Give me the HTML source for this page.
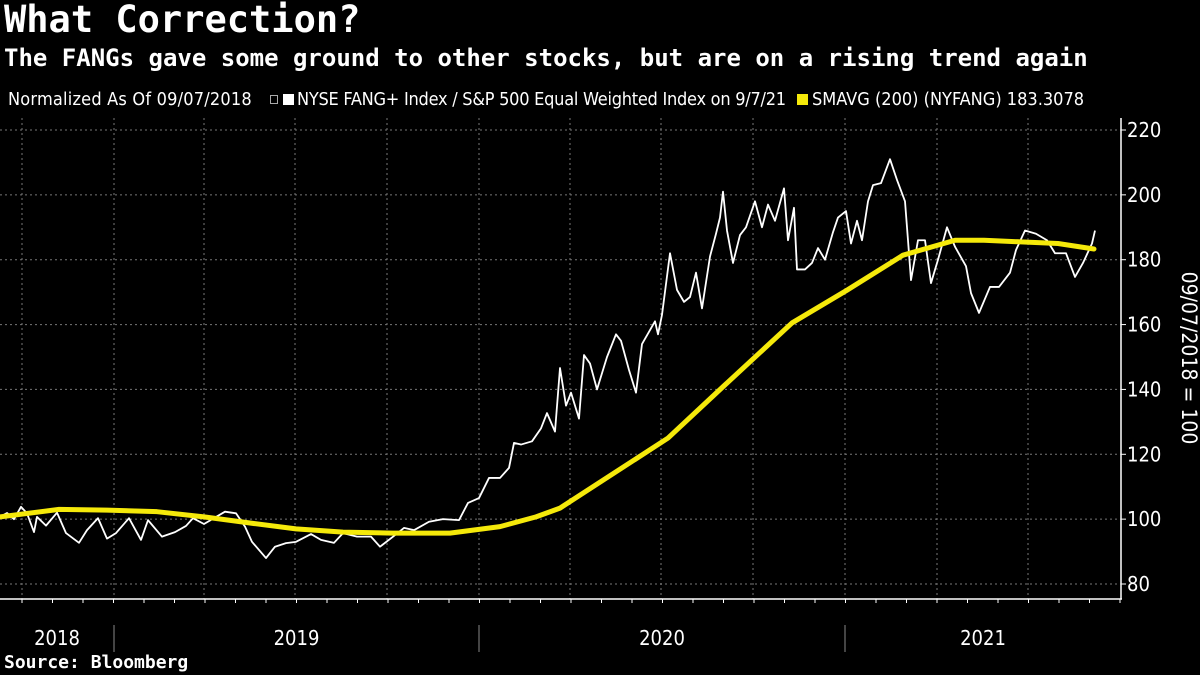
<!DOCTYPE html>
<html><head><meta charset="utf-8">
<style>
html,body{margin:0;padding:0;background:#000;}
body{width:1200px;height:675px;overflow:hidden;position:relative;color:#fff;}
.t{position:absolute;white-space:nowrap;}
#title{left:4px;top:-2px;font:bold 37px "DejaVu Sans Mono","Liberation Mono",monospace;letter-spacing:0px;}
#sub{left:4px;top:44px;font:bold 24px "DejaVu Sans Mono","Liberation Mono",monospace;letter-spacing:0px;}
.lg{top:89px;font:18px "DejaVu Sans Condensed","Liberation Sans Narrow","Liberation Sans",sans-serif;}
#src{left:4px;top:652px;font:bold 18px "DejaVu Sans Mono","Liberation Mono",monospace;}
</style></head>
<body>
<div class="t" id="title">What Correction?</div>
<div class="t" id="sub">The FANGs gave some ground to other stocks, but are on a rising trend again</div>
<div class="t lg" style="left:8px;letter-spacing:0.2px">Normalized As Of 09/07/2018</div>
<div class="t" style="left:270px;top:95px;width:6px;height:7px;border:1px solid #aaa;"></div>
<div class="t" style="left:283px;top:94px;width:11px;height:11px;background:#fff;"></div>
<div class="t lg" style="left:297px;letter-spacing:-0.25px">NYSE FANG+ Index / S&amp;P 500 Equal Weighted Index on 9/7/21</div>
<div class="t" style="left:797px;top:94px;width:11px;height:11px;background:#f5e90a;"></div>
<div class="t lg" style="left:812px">SMAVG (200) (NYFANG) 183.3078</div>
<svg id="chart" width="1200" height="675" style="position:absolute;left:0;top:0"></svg>
<div class="t" id="src">Source: Bloomberg</div>
<script>
const yTicks=[80,100,120,140,160,180,200,220];
const years=["2018","2019","2020","2021"];
const yearStartDays=[-200,116,481,847];
const fangDays=[2,9,16,23,29,36,39,48,59,68,81,89,100,109,118,131,143,150,164,177,188,195,206,227,238,247,254,268,277,288,298,313,323,336,345,359,373,382,395,406,416,431,445,461,470,481,491,502,511,516,523,534,543,549,557,562,568,573,581,586,592,599,609,618,623,631,638,644,657,660,664,672,679,686,692,698,704,712,718,722,725,729,735,742,748,757,764,770,777,786,790,796,799,807,814,820,827,835,840,848,853,859,864,870,875,883,892,899,907,910,913,920,927,933,940,949,957,968,973,981,992,1001,1012,1018,1027,1038,1049,1057,1068,1077,1085,1094,1097];
const fangValues=[100.7,101.9,100,103.8,101.8,96,100.7,98,102,95.7,92.7,96.6,100.3,94,95.7,100.3,93.6,99.7,94.6,96,97.9,100.3,98.5,102.3,101.8,97.7,93,88,91.5,92.6,93,95.4,93.6,92.7,95.7,94.6,94.6,91.5,94.6,97.3,96.6,99.2,100,99.7,105,106.5,112.7,112.7,115.8,123.5,123,124,128,132.7,127,146.6,135,139,131,150.6,148,140,150,157,155,146,139,154,161,157,163,182,170.7,167,168.5,176,165,181,188,193,201,189,179,187.6,190,198,190,197,192,202,186,196,177,177,179,183.6,180,188.5,193,195,185,192,186,198,203,203.6,211,204.6,198,186,173.7,186,186,172.8,180,190,184,178,169.7,163.6,171.6,171.6,176,183,189,188,186,182,182,174.7,179,185,189];
const smaDays=[2,61,109,159,206,252,298,345,395,452,502,538,562,670,727,794,849,905,957,986,1023,1060,1096];
const smaValues=[100.7,103,102.8,102.3,100.7,98.8,97,96,95.7,95.7,97.7,100.7,103.4,125,141.4,160.5,170.6,181.4,186,186,185.5,185,183.3];
const gridDays=[24,116,206,297,389,481,572,663,755,847,939,1030];

const NS="http://www.w3.org/2000/svg";
const FONT='"DejaVu Sans Condensed","Liberation Sans Narrow","Liberation Sans",sans-serif';
const svg=document.getElementById('chart');
const X0=-2,DAYPX=1.0,YBASE=584,YPX=454/140,PL=0,PR=1121,PT=118,PB=599;
function xs(d){return X0+d*DAYPX;}
function ys(v){return YBASE-(v-80)*YPX;}
function mk(tag,attrs){const e=document.createElementNS(NS,tag);for(const k in attrs)e.setAttribute(k,attrs[k]);svg.appendChild(e);return e;}
yTicks.forEach(v=>{
  const l=mk('line',{x1:PL,x2:PR,y1:ys(v),y2:ys(v),stroke:'#777','stroke-width':1,'stroke-dasharray':'2,3'});
  
  
  const tk=mk('line',{x1:PR,x2:PR+5,y1:ys(v),y2:ys(v),stroke:'#fff','stroke-width':1});
  
  
  const t=mk('text',{x:PR+6,y:ys(v)+7,fill:'#fff','font-size':20,'font-family':FONT});
  t.textContent=v;
  
  
});
gridDays.forEach((d,i)=>{
  const l=mk('line',{x1:xs(d),x2:xs(d),y1:PT,y2:PB,stroke:'#777','stroke-width':1,'stroke-dasharray':'2,3'});
  
  
});
const ax=mk('line',{x1:0,x2:PR+1,y1:PB,y2:PB,stroke:'#fff','stroke-width':1.5});


const ay=mk('line',{x1:PR,x2:PR,y1:PT,y2:PB,stroke:'#fff','stroke-width':1.5});


for(let d=0;d<1100;d+=30.5){
  const tk=mk('line',{x1:xs(d+24),x2:xs(d+24),y1:PB,y2:PB+4,stroke:'#fff','stroke-width':1});
  
  
}
years.forEach((y,i)=>{
  const s=Math.max(0,xs(yearStartDays[i]));
  const e=i+1<years.length?xs(yearStartDays[i+1]):PR;
  if(i>0){const sep=mk('line',{x1:s,x2:s,y1:625,y2:652,stroke:'#888','stroke-width':1});
    
    }
  const t=mk('text',{x:i==0?57:(s+e)/2,y:645,fill:'#fff','font-size':20,'text-anchor':'middle','font-family':FONT});
  t.textContent=y;
  
  
});
const yt=mk('text',{x:1182,y:358,fill:'#fff','font-size':21,'text-anchor':'middle',transform:'rotate(90 1182 358)','font-family':FONT});
yt.textContent='09/07/2018 = 100';


const sp=mk('polyline',{points:smaDays.map((d,i)=>xs(d)+','+ys(smaValues[i])).join(' '),fill:'none',stroke:'#f5e90a','stroke-width':5,'stroke-linejoin':'round','stroke-linecap':'round'});


const fp=mk('polyline',{points:fangDays.map((d,i)=>xs(d)+','+ys(fangValues[i])).join(' '),fill:'none',stroke:'#fff','stroke-width':1.8,'stroke-linejoin':'round'});


svg.appendChild(sp);
</script>
</body></html>
